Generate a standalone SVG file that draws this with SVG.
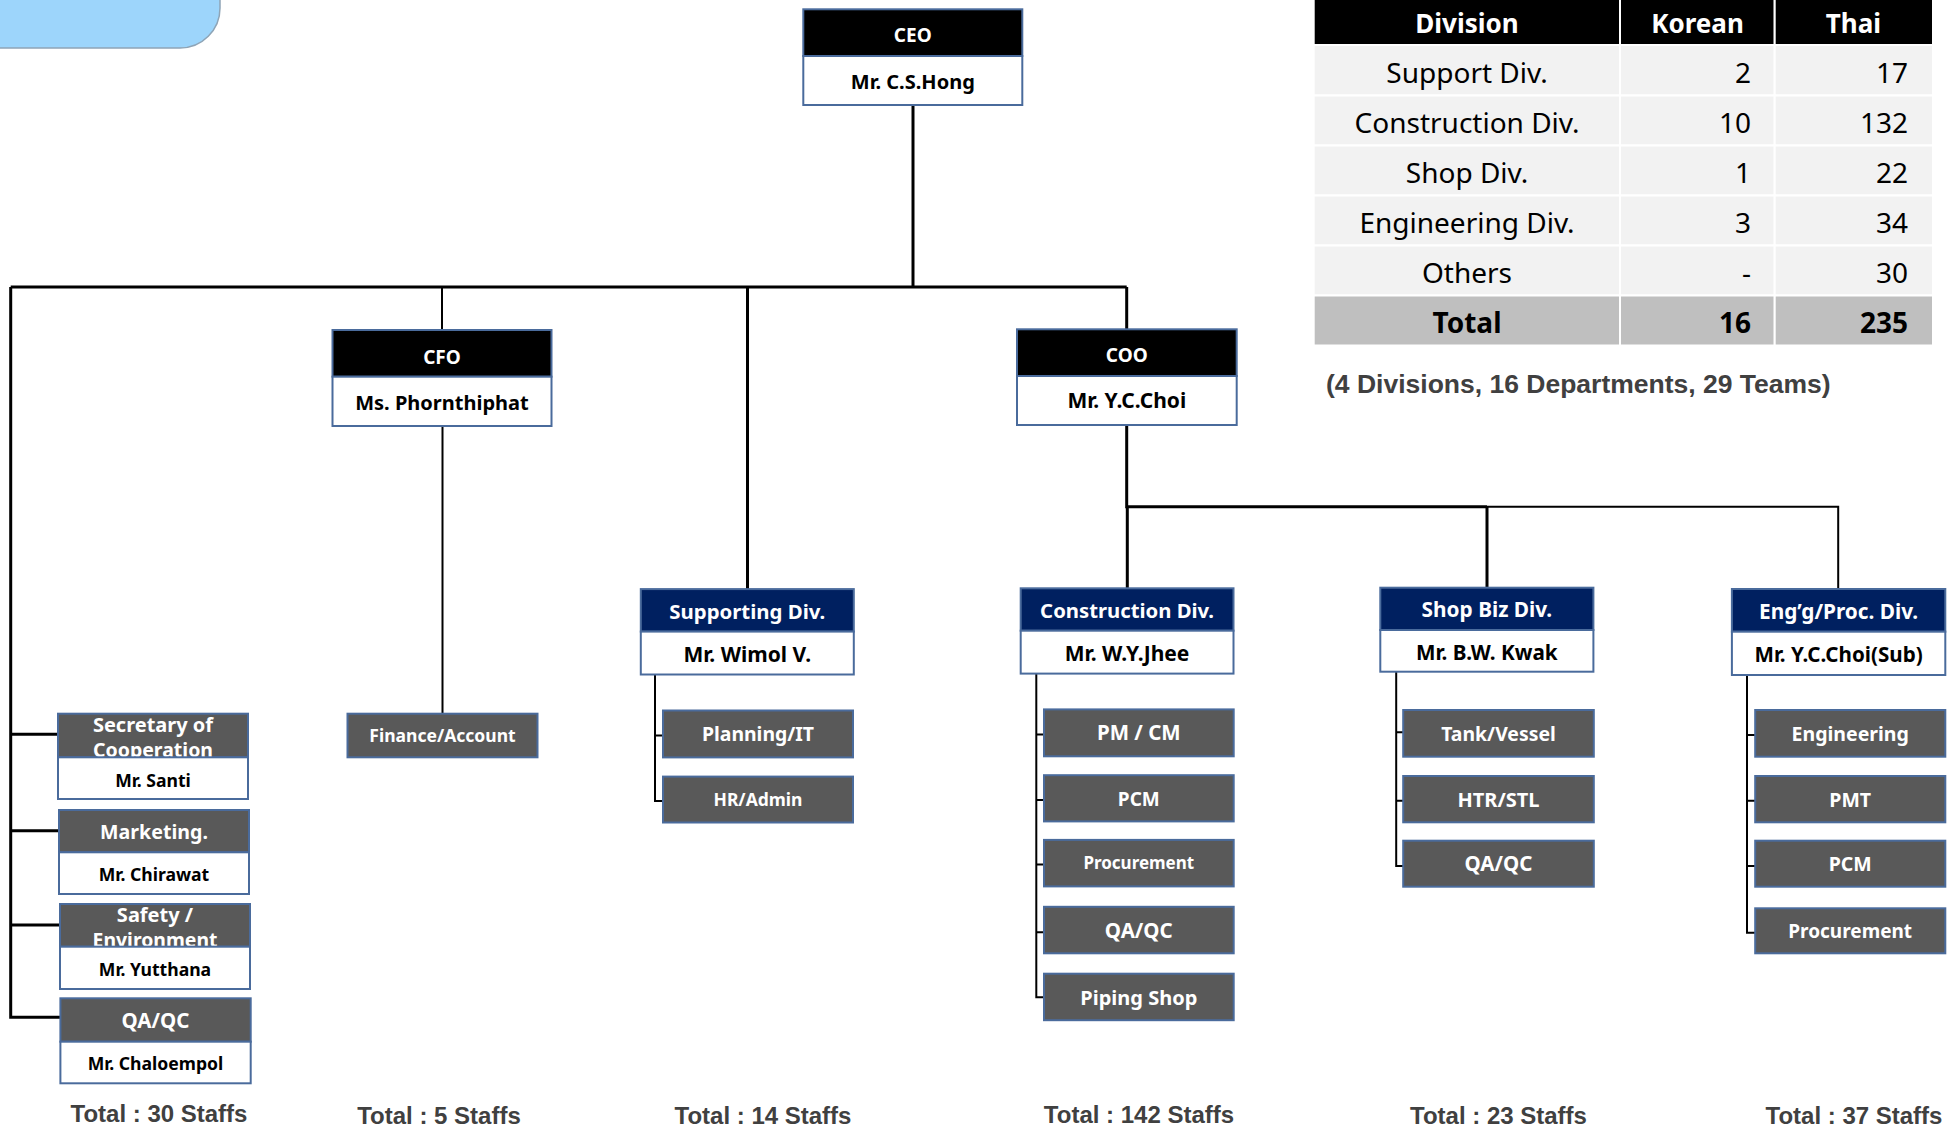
<svg xmlns="http://www.w3.org/2000/svg" width="1949" height="1130" viewBox="0 0 1949 1130">
<style>
.bk{fill:#000;stroke:#4a6b9c;stroke-width:2}
.nv{fill:#002060;stroke:#4a6b9c;stroke-width:2}
.wh{fill:#fff;stroke:#4a6b9c;stroke-width:2}
.dg{fill:#595959;stroke:#4a6b9c;stroke-width:2}
text{font-family:'Noto Sans','Open Sans','DejaVu Sans',sans-serif;text-anchor:middle}
.tw{fill:#fff;font-weight:bold;font-size:20px}
.tr{fill:#fff;font-weight:bold;font-size:20.5px}
.tn{fill:#000;font-weight:bold;font-size:21px}
.ts{fill:#000;font-weight:bold;font-size:17.6px}
.tt{fill:#fff;font-weight:bold;font-size:19px}
.conn{stroke:#000;stroke-width:3;fill:none}
.sub{stroke:#000;stroke-width:2;fill:none}
.total{font-family:'Liberation Sans',Arial,sans-serif;font-weight:bold;font-size:24px;fill:#404040}
.th{fill:#fff;font-weight:bold;font-size:26px}
.tb{fill:#000;font-size:28px}
.tbb{fill:#000;font-size:28px;font-weight:bold}
.num{text-anchor:end}
.hc{fill:#000;stroke:#fff;stroke-width:2}
.rc{fill:#f2f2f2;stroke:#fff;stroke-width:2}
.tc{fill:#bfbfbf;stroke:#fff;stroke-width:2}
</style>

<path d="M-10,-10 H220 V8 A40,40 0 0 1 180,48 H-10 Z" fill="#9dd5fb" stroke="#8ea4b6" stroke-width="1.5"/>

<g id="connectors">
<path class="conn" d="M913,105 V287"/>
<path class="conn" d="M10.7,287 H1126.7"/>
<path class="conn" d="M10.7,287 V1017.3 H60"/>
<path class="conn" d="M10.7,734.3 H58 M10.7,830.7 H59 M10.7,925 H60"/>
<path class="sub" d="M442,287 V330 M442.5,426 V713.7"/>
<path class="conn" d="M747.5,287 V589"/>
<path class="conn" d="M1126.7,287 V329.3 M1126.7,425 V506.7 H1487"/>
<path class="sub" d="M1487,506.7 H1838.2 V589"/>
<path class="conn" d="M1127.3,506.7 V588.3 M1487,506.7 V587.7"/>
<path class="sub" d="M655,674.5 V801 H663 M655,735.6 H663"/>
<path class="sub" d="M1036.3,673.8 V997.3 H1044 M1036.3,734.5 H1044 M1036.3,799.9 H1044 M1036.3,864.6 H1044 M1036.3,932.2 H1044"/>
<path class="sub" d="M1396.2,671.7 V866 H1403 M1396.2,732.3 H1403 M1396.2,800.7 H1403"/>
<path class="sub" d="M1747,675 V932.7 H1755 M1747,735 H1755 M1747,800.7 H1755 M1747,866 H1755"/>
</g>

<g id="table">
<rect class="hc" x="1313.7" y="-2" width="306.3" height="47"/>
<rect class="hc" x="1620" y="-2" width="154.7" height="47"/>
<rect class="hc" x="1774.7" y="-2" width="158.3" height="47"/>
<text class="th" x="1467" y="33">Division</text>
<text class="th" x="1697.5" y="33">Korean</text>
<text class="th" x="1853.5" y="33">Thai</text>
<g>
<rect class="rc" x="1313.7" y="45" width="306.3" height="50.5"/><rect class="rc" x="1620" y="45" width="154.7" height="50.5"/><rect class="rc" x="1774.7" y="45" width="158.3" height="50.5"/>
<rect class="rc" x="1313.7" y="95.5" width="306.3" height="50"/><rect class="rc" x="1620" y="95.5" width="154.7" height="50"/><rect class="rc" x="1774.7" y="95.5" width="158.3" height="50"/>
<rect class="rc" x="1313.7" y="145.5" width="306.3" height="50"/><rect class="rc" x="1620" y="145.5" width="154.7" height="50"/><rect class="rc" x="1774.7" y="145.5" width="158.3" height="50"/>
<rect class="rc" x="1313.7" y="195.5" width="306.3" height="50"/><rect class="rc" x="1620" y="195.5" width="154.7" height="50"/><rect class="rc" x="1774.7" y="195.5" width="158.3" height="50"/>
<rect class="rc" x="1313.7" y="245.5" width="306.3" height="50"/><rect class="rc" x="1620" y="245.5" width="154.7" height="50"/><rect class="rc" x="1774.7" y="245.5" width="158.3" height="50"/>
<rect class="tc" x="1313.7" y="295.5" width="306.3" height="50"/><rect class="tc" x="1620" y="295.5" width="154.7" height="50"/><rect class="tc" x="1774.7" y="295.5" width="158.3" height="50"/>
</g>
<text class="tb" x="1467" y="83">Support Div.</text><text class="tb num" x="1751" y="83">2</text><text class="tb num" x="1908" y="83">17</text>
<text class="tb" x="1467" y="133">Construction Div.</text><text class="tb num" x="1751" y="133">10</text><text class="tb num" x="1908" y="133">132</text>
<text class="tb" x="1467" y="183">Shop Div.</text><text class="tb num" x="1751" y="183">1</text><text class="tb num" x="1908" y="183">22</text>
<text class="tb" x="1467" y="233">Engineering Div.</text><text class="tb num" x="1751" y="233">3</text><text class="tb num" x="1908" y="233">34</text>
<text class="tb" x="1467" y="283">Others</text><text class="tb num" x="1751" y="283">-</text><text class="tb num" x="1908" y="283">30</text>
<text class="tbb" x="1467" y="333">Total</text><text class="tbb num" x="1751" y="333">16</text><text class="tbb num" x="1908" y="333">235</text>
<text style="font-family:'Liberation Sans',Arial,sans-serif;font-weight:bold;font-size:26.5px;fill:#404040;text-anchor:start" x="1326" y="393">(4 Divisions, 16 Departments, 29 Teams)</text>
</g>

<g id="ceo">
<rect class="bk" x="803.3" y="9.3" width="219" height="46.7"/>
<rect class="wh" x="803.3" y="56" width="219" height="49"/>
<text class="tt" x="912.8" y="41.5">CEO</text>
<text class="tn" x="912.8" y="89.3" style="font-size:20px">Mr. C.S.Hong</text>
</g>

<g id="cfo">
<rect class="bk" x="332.5" y="330" width="219" height="46.7"/>
<rect class="wh" x="332.5" y="376.7" width="219" height="49.3"/>
<text class="tt" x="442" y="363.5">CFO</text>
<text class="tn" x="442" y="410" style="font-size:20px">Ms. Phornthiphat</text>
</g>

<g id="coo">
<rect class="bk" x="1017" y="329.3" width="219.7" height="46.7"/>
<rect class="wh" x="1017" y="376" width="219.7" height="49"/>
<text class="tt" x="1126.8" y="361.7">COO</text>
<text class="tn" x="1126.8" y="408.3">Mr. Y.C.Choi</text>
</g>

<g id="secretary">
<rect class="dg" x="58" y="713.7" width="190" height="43.6"/>
<text class="tw" x="153" y="732">Secretary of</text>
<text class="tw" x="153" y="757" style="font-size:19.5px">Cooperation</text>
<rect class="wh" x="58" y="757.3" width="190" height="41.7"/>
<text class="ts" x="153" y="786.7">Mr. Santi</text>
</g>

<g id="marketing">
<rect class="dg" x="59" y="810" width="190" height="42.3"/>
<text class="tw" x="154" y="839.3" style="font-size:19.6px">Marketing.</text>
<rect class="wh" x="59" y="852.3" width="190" height="41.7"/>
<text class="ts" x="154" y="880.7">Mr. Chirawat</text>
</g>

<g id="safety">
<rect class="dg" x="60" y="904" width="190" height="42.7"/>
<text class="tw" x="155" y="922.3">Safety /</text>
<text class="tw" x="155" y="946.5" style="font-size:19.4px">Environment</text>
<rect class="wh" x="60" y="946.7" width="190" height="42.3"/>
<text class="ts" x="155" y="975.7">Mr. Yutthana</text>
</g>

<g id="qaqc-left">
<rect class="dg" x="60.4" y="998.3" width="190.3" height="43.4"/>
<text class="tr" x="155.5" y="1028">QA/QC</text>
<rect class="wh" x="60.4" y="1041.7" width="190.3" height="41.6"/>
<text class="ts" x="155.5" y="1070">Mr. Chaloempol</text>
</g>

<g id="finance">
<rect class="dg" x="347.5" y="713.7" width="190" height="43.6"/>
<text class="tw" x="442.5" y="742" style="font-size:17.5px">Finance/Account</text>
</g>

<g id="supporting">
<rect class="nv" x="640.8" y="589.1" width="213" height="42.5"/>
<rect class="wh" x="640.8" y="631.6" width="213" height="42.9"/>
<text class="tw" x="747.3" y="619" style="font-size:20.4px">Supporting Div.</text>
<text class="tn" x="747.3" y="662">Mr. Wimol V.</text>
</g>
<g id="planning">
<rect class="dg" x="663" y="710.5" width="190" height="46.9"/>
<text class="tw" x="758" y="741" style="font-size:19.4px">Planning/IT</text>
</g>
<g id="hradmin">
<rect class="dg" x="663" y="776.6" width="190" height="45.9"/>
<text class="tw" x="758" y="805.5" style="font-size:17.5px">HR/Admin</text>
</g>

<g id="construction">
<rect class="nv" x="1020.7" y="588.3" width="212.8" height="42.4"/>
<rect class="wh" x="1020.7" y="630.7" width="212.8" height="42.9"/>
<text class="tw" x="1127.1" y="617.5" style="font-size:20.3px">Construction Div.</text>
<text class="tn" x="1127.1" y="660.5">Mr. W.Y.Jhee</text>
</g>
<g id="pmcm">
<rect class="dg" x="1044" y="709.4" width="189.7" height="46.9"/>
<text class="tr" x="1138.8" y="740">PM / CM</text>
</g>
<g id="pcm-c">
<rect class="dg" x="1044" y="775.2" width="189.7" height="46.2"/>
<text class="tw" x="1138.8" y="805.5" style="font-size:19px">PCM</text>
</g>
<g id="procurement-c">
<rect class="dg" x="1044" y="839.9" width="189.7" height="46.5"/>
<text class="tw" x="1138.8" y="869" style="font-size:17px">Procurement</text>
</g>
<g id="qaqc-c">
<rect class="dg" x="1044" y="906.8" width="189.7" height="46.5"/>
<text class="tr" x="1138.8" y="937.5">QA/QC</text>
</g>
<g id="piping">
<rect class="dg" x="1044" y="973.7" width="189.7" height="46.5"/>
<text class="tw" x="1138.8" y="1004.5">Piping Shop</text>
</g>

<g id="shopbiz">
<rect class="nv" x="1380.3" y="587.7" width="213.1" height="42.3"/>
<rect class="wh" x="1380.3" y="630" width="213.1" height="41.7"/>
<text class="tw" x="1486.9" y="617" style="font-size:20.8px">Shop Biz Div.</text>
<text class="tn" x="1486.9" y="659.5" style="font-size:20.7px">Mr. B.W. Kwak</text>
</g>
<g id="tank">
<rect class="dg" x="1403.2" y="710" width="190.6" height="46.7"/>
<text class="tw" x="1498.5" y="740.5" style="font-size:19.4px">Tank/Vessel</text>
</g>
<g id="htr">
<rect class="dg" x="1403.2" y="776" width="190.6" height="46.3"/>
<text class="tw" x="1498.5" y="806.5">HTR/STL</text>
</g>
<g id="qaqc-s">
<rect class="dg" x="1403.2" y="840.7" width="190.6" height="46"/>
<text class="tr" x="1498.5" y="871">QA/QC</text>
</g>

<g id="engg">
<rect class="nv" x="1731.9" y="589" width="213.4" height="42.7"/>
<rect class="wh" x="1731.9" y="631.7" width="213.4" height="43.3"/>
<text class="tw" x="1838.6" y="619" style="font-size:20.8px">Eng’g/Proc. Div.</text>
<text class="tn" x="1838.6" y="662" style="font-size:20.6px">Mr. Y.C.Choi(Sub)</text>
</g>
<g id="engineering">
<rect class="dg" x="1755.2" y="710" width="190.1" height="46.7"/>
<text class="tw" x="1850.2" y="740.5" style="font-size:19.5px">Engineering</text>
</g>
<g id="pmt">
<rect class="dg" x="1755.2" y="776" width="190.1" height="46.3"/>
<text class="tw" x="1850.2" y="806.5" style="font-size:19.5px">PMT</text>
</g>
<g id="pcm-e">
<rect class="dg" x="1755.2" y="840.7" width="190.1" height="46"/>
<text class="tw" x="1850.2" y="871" style="font-size:19.5px">PCM</text>
</g>
<g id="procurement-e">
<rect class="dg" x="1755.2" y="908.3" width="190.1" height="45"/>
<text class="tw" x="1850.2" y="938" style="font-size:19px">Procurement</text>
</g>

<g id="totals">
<text class="total" x="159" y="1122">Total : 30 Staffs</text>
<text class="total" x="439" y="1124">Total : 5 Staffs</text>
<text class="total" x="763" y="1123.5">Total : 14 Staffs</text>
<text class="total" x="1139" y="1123">Total : 142 Staffs</text>
<text class="total" x="1498.5" y="1124.3">Total : 23 Staffs</text>
<text class="total" x="1854" y="1124.3">Total : 37 Staffs</text>
</g>
</svg>
